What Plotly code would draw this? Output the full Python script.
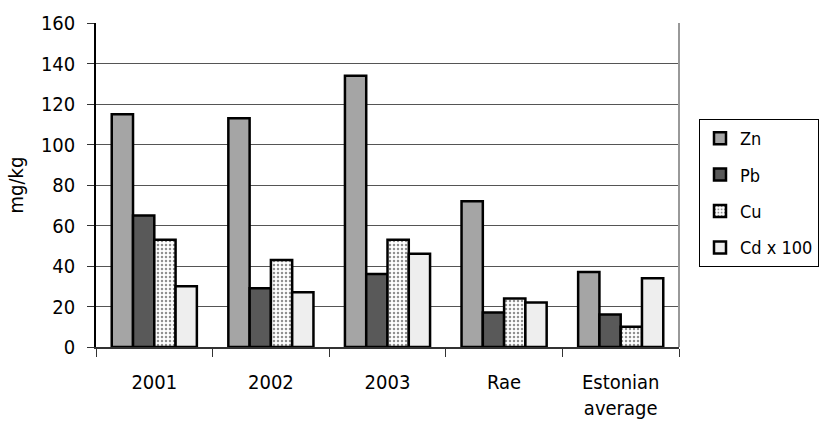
import plotly.graph_objects as go

# Heavy metal content in soil, mg/kg
categories = ["2001", "2002", "2003", "Rae", "Estonian<br>average"]
zn = [115, 113, 134, 72, 37]
pb = [65, 29, 36, 17, 16]
cu = [53, 43, 53, 24, 10]
cd_x100 = [30, 27, 46, 22, 34]

y_ticks = [0, 20, 40, 60, 80, 100, 120, 140, 160]

FONT = "DejaVu Sans Condensed, DejaVu Sans, sans-serif"
edge = dict(color="black", width=2.5)

fig = go.Figure()
fig.add_trace(go.Bar(name="Zn", x=categories, y=zn, legendgroup="zn",
                     marker=dict(color="#a5a5a5", line=edge)))
fig.add_trace(go.Bar(name="Pb", x=categories, y=pb, legendgroup="pb",
                     marker=dict(color="#595959", line=edge)))
fig.add_trace(go.Bar(name="Cu", x=categories, y=cu, legendgroup="cu",
                     marker=dict(color="white", line=edge,
                                 pattern=dict(shape=".", fgcolor="#222222",
                                              bgcolor="white", size=4,
                                              solidity=0.3))))
fig.add_trace(go.Bar(name="Cd x 100", x=categories, y=cd_x100, legendgroup="cd",
                     marker=dict(color="#eeeeee", line=edge)))

fig.update_layout(
    width=819, height=424,
    margin=dict(l=96, r=140, t=23, b=77, autoexpand=False),
    paper_bgcolor="white", plot_bgcolor="white",
    font=dict(family=FONT, size=20, color="black"),
    barmode="group", bargap=0.27, bargroupgap=0,
    showlegend=True,
    legend=dict(xref="container", yref="container",
                x=699 / 819, y=1 - 119 / 424, xanchor="left", yanchor="top",
                bordercolor="black", borderwidth=1, bgcolor="white",
                font=dict(family=FONT, size=18), tracegroupgap=10,
                itemwidth=30),
    xaxis=dict(
        type="category", tickson="boundaries", ticks="outside", ticklen=8,
        tickcolor="#333", tickwidth=1, showline=True, linecolor="#333",
        linewidth=1.5, showgrid=False, ticklabelstandoff=16, automargin=False,
        tickfont=dict(family=FONT, size=20),
    ),
    yaxis=dict(
        range=[0, 160], tickvals=y_ticks, ticks="outside", ticklen=7,
        tickcolor="#333", showline=True, linecolor="black", linewidth=1.5,
        showgrid=True, gridcolor="#555555", gridwidth=1, zeroline=False,
        ticklabelstandoff=8, automargin=False,
        title=dict(text="mg/kg", standoff=12, font=dict(family=FONT, size=20)),
        tickfont=dict(family=FONT, size=20),
    ),
)

# Gray frame on the right side of the plotting area
fig.add_shape(type="line", xref="paper", yref="paper", x0=1, x1=1, y0=0, y1=1,
              line=dict(color="#999999", width=2))

fig.write_html("out.html")
